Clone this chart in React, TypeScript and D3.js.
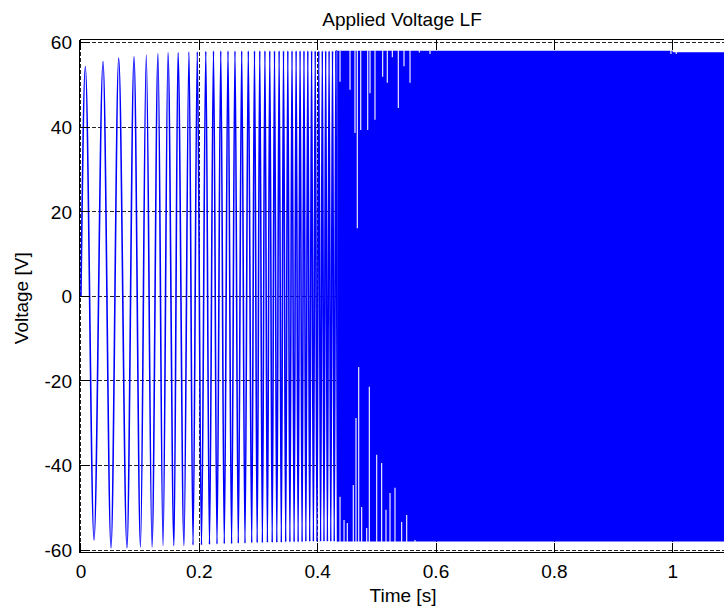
import React from "react";
import * as d3 from "d3";

const W = 724;
const H = 611;

const title = "Applied Voltage LF";
const xLabel = "Time [s]";
const yLabel = "Voltage [V]";

const xTicks = [0, 0.2, 0.4, 0.6, 0.8, 1];
const xTickLabels = ["0", "0.2", "0.4", "0.6", "0.8", "1"];
const yTicks = [-60, -40, -20, 0, 20, 40, 60];
const yTickLabels = ["-60", "-40", "-20", "0", "20", "40", "60"];

// successive extrema of the sweep (time [s], voltage [V])
const extremaT = [
  0, 0.0074, 0.0221, 0.0373, 0.0508, 0.0638, 0.0778, 0.0897, 0.1006, 0.1104, 0.1201,
  0.1302, 0.1387, 0.1471, 0.1572, 0.164, 0.1741, 0.1826, 0.1894, 0.1966, 0.2037,
  0.211, 0.2172, 0.224, 0.2299, 0.2363, 0.2422, 0.2485, 0.2546, 0.2603, 0.2659,
  0.2717, 0.2772, 0.2828, 0.2886, 0.2933, 0.2978, 0.3022, 0.3066, 0.3109, 0.3151,
  0.3191, 0.3232, 0.3271, 0.331, 0.3349, 0.3386, 0.3423, 0.346, 0.3496, 0.3531,
  0.3567, 0.3602, 0.3636, 0.367, 0.3703, 0.3737, 0.3769, 0.3801, 0.3834, 0.3866,
  0.3898, 0.3928, 0.3959, 0.3989, 0.4019, 0.405, 0.4079, 0.4107, 0.4136, 0.4165,
  0.4193, 0.4222, 0.4251, 0.428, 0.4308, 0.4337,
];
const extremaV = [
  0, 54.3, -57.6, 55.5, -59.5, 56.3, -59.5, 56.6, -59.3, 57.0, -59.3,
  57.4, -59.0, 57.6, -59.0, 57.6, -59.0, 57.8, -58.8, 57.8, -58.8,
  57.9, -58.7, 58.0, -58.6, 58.0, -58.5, 58.0, -58.5, 58.0, -58.4,
  58.0, -58.4, 58.0, -58.3, 58.0, -58.3, 58.0, -58.3, 58.0, -58.2,
  58.0, -58.2, 58.0, -58.2, 58.0, -58.2, 58.0, -58.1, 58.0, -58.1,
  58.0, -58.1, 58.0, -58.1, 58.0, -58.1, 58.0, -58.0, 58.0, -58.0,
  58.0, -58.0, 58.0, -58.0, 58.0, -58.0, 58.0, -58.0, 58.0, -58.0,
  58.0, -58.0, 58.0, -58.0, 58.0, -58.0,
];

// envelope of the dense part of the sweep
const bandT = [0.433, 1.0, 1.0, 1.09];
const bandTop = [58.05, 58.05, 57.7, 57.7];
const bandBottom = [-58.0, -58.0, -58.0, -58.0];

// peaks that fall short of the envelope in the dense part
const topGapT = [
  0.4378, 0.4547, 0.4631, 0.467, 0.4728, 0.4846, 0.4885, 0.4969, 0.5099, 0.5177,
  0.5262, 0.5363, 0.5459, 0.5561, 0.5718, 0.5899, 0.997, 1.006,
];
const topGapV = [
  50.7, 48.8, 38.6, 16.1, 39.3, 39.3, 48.0, 41.7, 51.9, 50.5,
  56.5, 44.5, 54.4, 50.5, 57.6, 57.3, 57.3, 57.3,
];
const bottomGapT = [
  0.4378, 0.4446, 0.4501, 0.4602, 0.4648, 0.4694, 0.4744, 0.4829, 0.4873, 0.4998,
  0.5082, 0.5155, 0.5223, 0.5307, 0.542, 0.5505, 0.5645,
];
const bottomGapV = [
  -47.4, -52.9, -53.6, -44.6, -28.8, -16.7, -49.8, -54.8, -21.4, -37.5,
  -39.4, -50.5, -46.5, -45.3, -53.4, -51.7, -57.6,
];

const FONT = "'Liberation Sans', Arial, Helvetica, sans-serif";
const BLUE = "#0000ff";

export default function App() {
  const x = d3.scaleLinear().domain([-0.00245, 1.09]).range([79.5, 725.96]);
  const y = d3.scaleLinear().domain([-60.7, 60.7]).range([553, 39.5]);

  const left = x(-0.00245);
  const right = x(1.09);
  const top = 39.5;
  const bottom = 552.5;

  const pts: [number, number][] = extremaT.map((t, i) => [t, extremaV[i]]);
  const line = d3
    .line<[number, number]>()
    .x((d) => x(d[0]))
    .y((d) => y(d[1]))
    .curve(d3.curveMonotoneX);

  const bandPts = bandT.map((t, i) => ({ t, hi: bandTop[i], lo: bandBottom[i] }));
  const area = d3
    .area<{ t: number; hi: number; lo: number }>()
    .x((d) => x(d.t))
    .y0((d) => y(d.lo))
    .y1((d) => y(d.hi));

  return (
    <svg
      width={W}
      height={H}
      style={{ position: "absolute", left: 0, top: 0, background: "#fff" }}
      fontFamily={FONT}
    >
      <rect x={0} y={0} width={W} height={H} fill="#fff" />
      <defs>
        <clipPath id="plot">
          <rect x={left} y={top} width={right - left} height={bottom - top} />
        </clipPath>
      </defs>

      {/* grid */}
      <g stroke="#222" strokeWidth={1} strokeDasharray="4,2" shapeRendering="crispEdges">
        {xTicks.map((t) => (
          <line key={"gx" + t} x1={x(t)} x2={x(t)} y1={top} y2={bottom} />
        ))}
        {yTicks.map((v) => (
          <line key={"gy" + v} x1={left} x2={right} y1={y(v)} y2={y(v)} />
        ))}
      </g>

      {/* data */}
      <g clipPath="url(#plot)">
        <path d={area(bandPts) || ""} fill={BLUE} />
        <path d={line(pts) || ""} fill="none" stroke={BLUE} strokeWidth={1.6} />
        <g stroke="#fff" strokeWidth={1.1}>
          {topGapT.map((t, i) => (
            <line key={"tg" + i} x1={x(t)} x2={x(t)} y1={y(bandTop[0]) - 0.5} y2={y(topGapV[i])} />
          ))}
          {bottomGapT.map((t, i) => (
            <line key={"bg" + i} x1={x(t)} x2={x(t)} y1={y(bandBottom[0]) + 0.5} y2={y(bottomGapV[i])} />
          ))}
        </g>
      </g>

      {/* box & ticks */}
      <g stroke="#000" strokeWidth={1} shapeRendering="crispEdges" fill="none">
        <line x1={left} x2={right + 2} y1={top} y2={top} />
        <line x1={left} x2={right + 2} y1={bottom} y2={bottom} />
        <line x1={left} x2={left} y1={top} y2={bottom} />
        {xTicks.map((t) => (
          <g key={"tx" + t}>
            <line x1={x(t)} x2={x(t)} y1={bottom} y2={bottom - 10} />
            <line x1={x(t)} x2={x(t)} y1={top} y2={top + 10} />
          </g>
        ))}
        {yTicks.map((v) => (
          <line key={"ty" + v} x1={left} x2={left + 10} y1={y(v)} y2={y(v)} />
        ))}
      </g>

      {/* tick labels */}
      <g fontSize={19} fill="#000">
        {xTicks.map((t, i) => (
          <text key={"lx" + t} x={x(t)} y={578} textAnchor="middle">
            {xTickLabels[i]}
          </text>
        ))}
        {yTicks.map((v, i) => (
          <text key={"ly" + v} x={72} y={y(v) + 7} textAnchor="end">
            {yTickLabels[i]}
          </text>
        ))}
      </g>

      <text x={403} y={602} fontSize={19} textAnchor="middle" fill="#000">
        {xLabel}
      </text>
      <text
        transform={`translate(28, ${y(0) + 2}) rotate(-90)`}
        fontSize={19}
        textAnchor="middle"
        fill="#000"
      >
        {yLabel}
      </text>
      <text x={402} y={26} fontSize={19} textAnchor="middle" fill="#000">
        {title}
      </text>
    </svg>
  );
}
